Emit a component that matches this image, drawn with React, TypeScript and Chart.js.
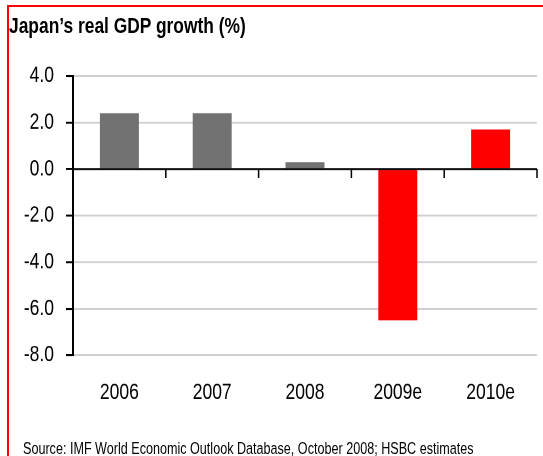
import React, { useEffect, useRef } from "react";
import { Chart, registerables } from "chart.js";

Chart.register(...registerables);

const categories = ["2006", "2007", "2008", "2009e", "2010e"];
const growth = [2.4, 2.4, 0.3, -6.5, 1.7];
const barColors = ["#727272", "#727272", "#727272", "#ff0000", "#ff0000"];
const yMin = -8;
const yMax = 4;
const yStep = 2;
const titleText = "Japan\u2019s real GDP growth (%)";
const sourceText =
  "Source: IMF World Economic Outlook Database, October 2008; HSBC estimates";

const FONT = '"Liberation Sans", Arial, Helvetica, sans-serif';

// The reference is vertically stretched; the chart is drawn on a shorter
// canvas and displayed stretched to the full height.
const W = 543;
const H = 456;
const CH = 356;
const S = H / CH;

const zeroAxisPlugin = {
  id: "zeroAxis",
  afterDatasetsDraw(chart: any) {
    const { ctx, chartArea, scales } = chart;
    const x = scales.x;
    const y = scales.y;
    const y0 = y.getPixelForValue(0);
    ctx.save();
    ctx.strokeStyle = "#000";
    ctx.lineWidth = 2 / S;
    ctx.beginPath();
    ctx.moveTo(chartArea.left, y0);
    ctx.lineTo(chartArea.right, y0);
    ctx.stroke();
    ctx.lineWidth = 1.5;
    ctx.beginPath();
    for (let i = 0; i <= categories.length; i++) {
      const px = x.getPixelForValue(i - 0.5);
      ctx.moveTo(px, y0);
      ctx.lineTo(px, y0 + 9 / S);
    }
    ctx.stroke();
    ctx.restore();
  },
};

export default function App() {
  const canvasRef = useRef<HTMLCanvasElement | null>(null);

  useEffect(() => {
    if (!canvasRef.current) return;
    const chart = new Chart(canvasRef.current, {
      type: "bar",
      data: {
        labels: categories,
        datasets: [
          {
            data: growth,
            backgroundColor: barColors,
            borderWidth: 0,
            categoryPercentage: 1,
            barPercentage: 0.42,
          },
        ],
      },
      options: {
        animation: false,
        responsive: false,
        maintainAspectRatio: false,
        devicePixelRatio: 2,
        layout: { padding: { top: 76 / S, right: 6, left: 0, bottom: 0 } },
        plugins: {
          legend: { display: false },
          tooltip: { enabled: false },
          title: { display: false },
        },
        scales: {
          x: {
            type: "category",
            grid: { display: false },
            border: { display: false },
            ticks: {
              color: "#000",
              padding: 10.9,
              maxRotation: 0,
              font: { family: FONT, size: 17.5 },
            },
            afterFit: (scale: any) => {
              scale.height = CH - 355.3 / S;
            },
          },
          y: {
            min: yMin,
            max: yMax,
            ticks: {
              stepSize: yStep,
              color: "#000",
              padding: 12,
              font: { family: FONT, size: 17.5 },
              callback: (v: any) => Number(v).toFixed(1),
            },
            grid: {
              color: "#d0d0d0",
              lineWidth: 2 / S,
              tickColor: "#000",
              tickLength: 7,
              tickWidth: 2 / S,
            },
            border: { display: true, color: "#000", width: 2 },
            afterFit: (scale: any) => {
              scale.width = 73;
            },
          },
        },
      },
      plugins: [zeroAxisPlugin],
    });
    return () => chart.destroy();
  }, []);

  return (
    <div
      style={{
        position: "absolute",
        left: 0,
        top: 0,
        width: W,
        height: H,
        overflow: "hidden",
        background: "#fff",
      }}
    >
      <canvas
        ref={canvasRef}
        width={W}
        height={CH}
        style={{ position: "absolute", left: 0, top: 0, width: W, height: H }}
      />
      <div
        style={{
          position: "absolute",
          left: 7,
          top: 5,
          width: 536,
          height: 2,
          background: "#ff0000",
        }}
      />
      <div
        style={{
          position: "absolute",
          left: 7,
          top: 5,
          width: 2,
          height: 451,
          background: "#ff0000",
        }}
      />
      <div
        style={{
          position: "absolute",
          left: 9,
          top: 12.8,
          fontFamily: FONT,
          fontWeight: "bold",
          fontSize: 17.4,
          lineHeight: "20px",
          color: "#000",
          whiteSpace: "nowrap",
          transform: `scaleY(${S})`,
          transformOrigin: "0 0",
        }}
      >
        {titleText}
      </div>
      <div
        style={{
          position: "absolute",
          left: 23,
          top: 440.3,
          fontFamily: FONT,
          fontSize: 12.6,
          lineHeight: "15px",
          color: "#000",
          whiteSpace: "nowrap",
          transform: `scaleY(${S})`,
          transformOrigin: "0 0",
        }}
      >
        {sourceText}
      </div>
    </div>
  );
}
